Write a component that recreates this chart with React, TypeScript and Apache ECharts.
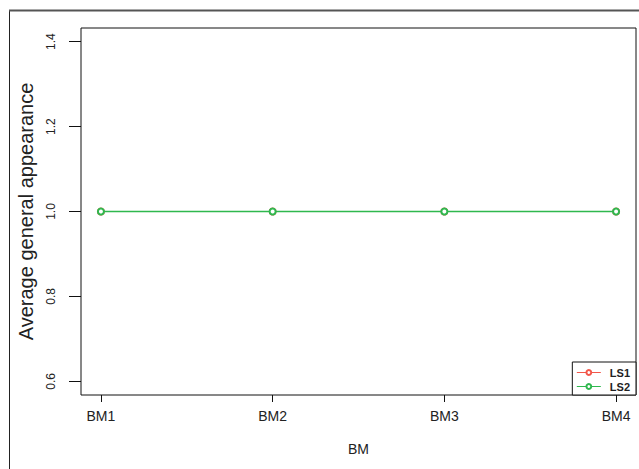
import React, { useEffect, useRef } from "react";
import * as echarts from "echarts";

// Benchmarks on the x axis and the two light-setting series
const categories = ["BM1", "BM2", "BM3", "BM4"];
const ls1 = [1.0, 1.0, 1.0, 1.0];
const ls2 = [1.0, 1.0, 1.0, 1.0];
const xTicks = [1, 2, 3, 4];
const yTicks = [0.6, 0.8, 1.0, 1.2, 1.4];

const W = 639;
const H = 469;

export default function App() {
  const ref = useRef<HTMLDivElement>(null);

  useEffect(() => {
    if (!ref.current) return;
    const chart = echarts.init(ref.current, null, { renderer: "svg", width: W, height: H });
    const font = "'Liberation Sans', Arial, sans-serif";
    const toPoints = (vals: number[]) => vals.map((v, i) => [xTicks[i], v]);

    chart.setOption({
      animation: false,
      backgroundColor: "#ffffff",
      textStyle: { fontFamily: font },
      grid: {
        left: 81,
        top: 28,
        width: 555,
        height: 367,
        show: true,
        borderColor: "#111",
        borderWidth: 1,
        backgroundColor: "transparent",
      },
      xAxis: {
        type: "value",
        min: 0.884,
        max: 4.116,
        name: "BM",
        nameLocation: "middle",
        nameGap: 47,
        nameTextStyle: { fontSize: 14, color: "#222", fontFamily: font },
        axisLine: { show: false },
        splitLine: { show: false },
        axisTick: {
          show: true,
          inside: false,
          length: 7,
          customValues: xTicks,
          lineStyle: { color: "#111", width: 1 },
        },
        axisLabel: {
          customValues: xTicks,
          margin: 14,
          fontSize: 14,
          color: "#222",
          fontFamily: font,
          formatter: (v: number) => categories[Math.round(v) - 1] ?? "",
        },
      },
      yAxis: {
        type: "value",
        min: 0.568,
        max: 1.432,
        name: "Average general appearance",
        nameLocation: "middle",
        nameGap: 45,
        nameRotate: 90,
        nameTextStyle: { fontSize: 20, color: "#222", fontFamily: font },
        axisLine: { show: false },
        splitLine: { show: false },
        axisTick: {
          show: true,
          inside: false,
          length: 12,
          customValues: yTicks,
          lineStyle: { color: "#111", width: 1 },
        },
        axisLabel: {
          customValues: yTicks,
          rotate: 90,
          margin: 24,
          fontSize: 12,
          color: "#222",
          fontFamily: font,
          formatter: (v: number) => v.toFixed(1),
        },
      },
      legend: {
        orient: "vertical",
        right: 3,
        bottom: 74,
        itemWidth: 24,
        itemHeight: 6,
        itemGap: 3,
        padding: [5, 6, 3, 4],
        borderColor: "#111",
        borderWidth: 1,
        backgroundColor: "#fff",
        itemStyle: { borderWidth: 1 },
        lineStyle: { width: 1 },
        textStyle: { fontSize: 11, fontWeight: "bold", color: "#222", fontFamily: font, padding: [0, 0, 0, 4] },
        data: ["LS1", "LS2"],
      },
      series: [
        {
          name: "LS1",
          type: "line",
          z: 2,
          data: toPoints(ls1),
          symbol: "emptyCircle",
          symbolSize: 6,
          color: "#f2574a",
          lineStyle: { width: 1, color: "#f2574a" },
          itemStyle: { color: "#f2574a", borderWidth: 1 },
        },
        {
          name: "LS2",
          type: "line",
          z: 3,
          data: toPoints(ls2),
          symbol: "emptyCircle",
          symbolSize: 6,
          color: "#2fb84e",
          lineStyle: { width: 1.5, color: "#2fb84e" },
          itemStyle: { color: "#2fb84e", borderWidth: 1 },
        },
      ],
      graphic: [
        {
          type: "line",
          silent: true,
          shape: { x1: 9.5, y1: 10, x2: 9.5, y2: H + 5 },
          style: { stroke: "#222", lineWidth: 1 },
        },
        {
          type: "line",
          silent: true,
          shape: { x1: 9, y1: 10.5, x2: W + 5, y2: 10.5 },
          style: { stroke: "#555", lineWidth: 2 },
        },
      ],
    });

    return () => chart.dispose();
  }, []);

  return (
    <div
      ref={ref}
      style={{ position: "fixed", left: 0, top: 0, width: W, height: H, background: "#fff" }}
    />
  );
}
